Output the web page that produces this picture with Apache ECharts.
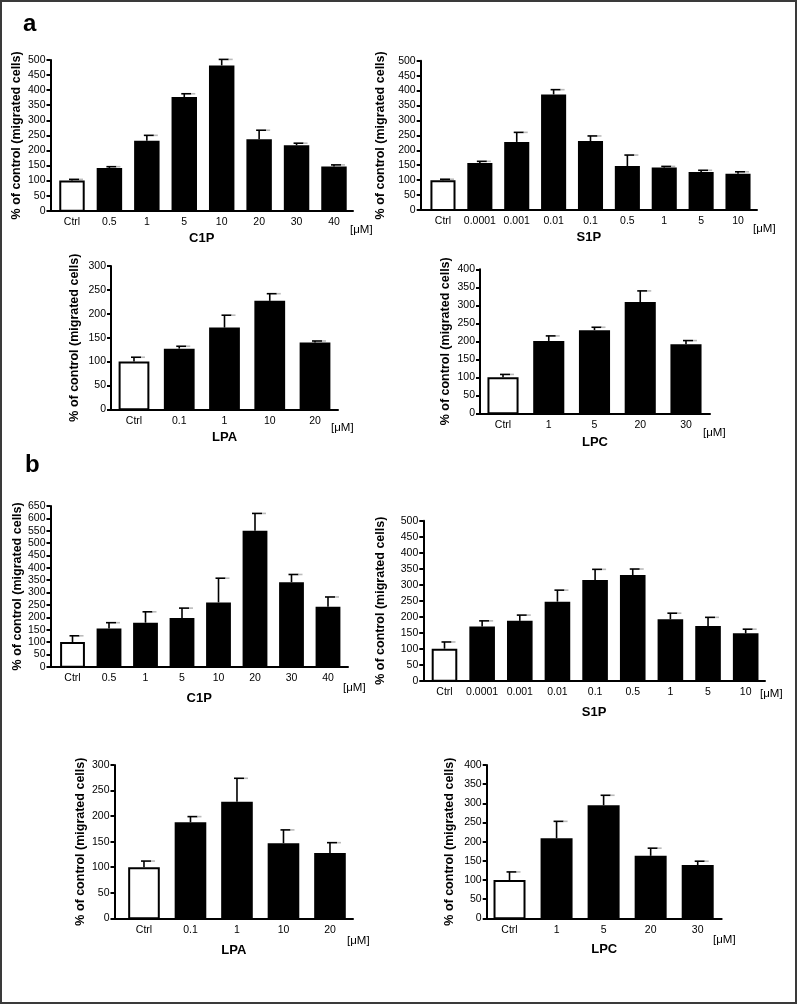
<!DOCTYPE html>
<html>
<head>
<meta charset="utf-8">
<script src="https://cdn.jsdelivr.net/npm/echarts@6/dist/echarts.min.js"></script>
<style>
html,body{margin:0;padding:0;background:#fff;}
#chart{width:798px;height:1004px;}
</style>
</head>
<body>
<div id="chart"></div>
<script>
// ---------- data ----------
const catsC1P = ['Ctrl','0.5','1','5','10','20','30','40'];
const catsS1P = ['Ctrl','0.0001','0.001','0.01','0.1','0.5','1','5','10'];
const catsLPA = ['Ctrl','0.1','1','10','20'];
const catsLPC = ['Ctrl','1','5','20','30'];

const aC1P    = [100,142,232,377,482,237,217,147];
const aC1PErr = [104,146,250,388,502,267,224,152];
const aS1P    = [100,157,228,387,231,147,142,127,121];
const aS1PErr = [103,163,260,403,248,184,146,133,128];
const aLPA    = [100,127,171,227,140];
const aLPAErr = [109,132,197,242,143];
const aLPC    = [100,201,231,309,192];
const aLPCErr = [108,215,239,340,202];

const bC1P    = [100,155,178,197,260,550,342,242];
const bC1PErr = [125,178,222,237,358,620,373,282];
const bS1P    = [100,169,187,247,315,330,192,171,148];
const bS1PErr = [121,187,205,283,348,349,211,198,161];
const bLPA    = [100,188,228,147,128];
const bLPAErr = [112,199,274,173,148];
const bLPC    = [100,209,295,163,139];
const bLPCErr = [121,253,321,183,149];

const yMaxs = [500,500,300,400,650,500,300,400];
const yStep = 50;
const yTitle = '% of control (migrated cells)';
const unitLabel = '[\u03bcM]';

// ---------- layout ----------
const FONT = 'Liberation Sans, Arial, sans-serif';
const panels = [
  {cats:catsC1P, v:aC1P, e:aC1PErr, name:'C1P', L:50.5, R:353, T:60,    B:210.7, xmin:-0.574, xmax:7.508, ng:27, xg:21, mu:[350,230]},
  {cats:catsS1P, v:aS1P, e:aS1PErr, name:'S1P', L:420.7,R:757, T:60.7,  B:210,   xmin:-0.604, xmax:8.515, ng:34, xg:21, mu:[753,229]},
  {cats:catsLPA, v:aLPA, e:aLPAErr, name:'LPA', L:111,  R:338, T:266,   B:409.3, xmin:-0.508, xmax:4.508, ng:30, xg:22, mu:[331,428]},
  {cats:catsLPC, v:aLPC, e:aLPCErr, name:'LPC', L:480,  R:710, T:269.3, B:413.3, xmin:-0.503, xmax:4.525, ng:28, xg:23, mu:[703,433]},
  {cats:catsC1P, v:bC1P, e:bC1PErr, name:'C1P', L:50.5, R:348, T:506,   B:666.7, xmin:-0.603, xmax:7.548, ng:24, xg:25, mu:[343,688]},
  {cats:catsS1P, v:bS1P, e:bS1PErr, name:'S1P', L:423.3,R:765, T:520.7, B:680.7, xmin:-0.563, xmax:8.513, ng:36, xg:25, mu:[760,694]},
  {cats:catsLPA, v:bLPA, e:bLPAErr, name:'LPA', L:114.5,R:353, T:765,   B:918.3, xmin:-0.634, xmax:4.495, ng:27, xg:26, mu:[347,941]},
  {cats:catsLPC, v:bLPC, e:bLPCErr, name:'LPC', L:486.7,R:721.7,T:765,  B:918.3, xmin:-0.485, xmax:4.51,  ng:31, xg:25, mu:[713,940]}
];
const BAR_FRAC = 0.68;

const grids = [], xAxes = [], yAxes = [], series = [];
const graphics = [
  {type:'rect', shape:{x:1, y:1, width:795, height:1002}, style:{fill:'none', stroke:'#3a3a3a', lineWidth:2}, z:100},
  {type:'text', x:23, y:24, style:{text:'a', font:'bold 24px '+FONT, fill:'#000', verticalAlign:'middle'}},
  {type:'text', x:25, y:465, style:{text:'b', font:'bold 24px '+FONT, fill:'#000', verticalAlign:'middle'}}
];

panels.forEach(function(p, k){
  grids.push({left:p.L, top:p.T, width:p.R-p.L, height:p.B-p.T, containLabel:false, outerBoundsMode:'none'});
  const idx = p.cats.map(function(_, i){ return i; });
  xAxes.push({
    type:'value', gridIndex:k, min:p.xmin, max:p.xmax,
    name:p.name, nameLocation:'middle', nameGap:p.xg,
    nameTextStyle:{fontFamily:FONT, fontWeight:'bold', fontSize:13, color:'#000'},
    axisLine:{show:true, onZero:false, lineStyle:{color:'#000', width:2}},
    axisTick:{show:false},
    splitLine:{show:false},
    axisLabel:{customValues:idx, margin:6, fontFamily:FONT, fontSize:10.5, color:'#000',
      formatter:function(val){ return p.cats[Math.round(val)]; }}
  });
  yAxes.push({
    type:'value', gridIndex:k, min:0, max:yMaxs[k], interval:yStep,
    name:yTitle, nameLocation:'middle', nameGap:p.ng,
    nameTextStyle:{fontFamily:FONT, fontWeight:'bold', fontSize:12.5, color:'#000'},
    axisLine:{show:true, onZero:false, lineStyle:{color:'#000', width:2}},
    axisTick:{show:true, length:4, lineStyle:{color:'#000', width:2}},
    splitLine:{show:false},
    axisLabel:{margin:5, fontFamily:FONT, fontSize:10.5, color:'#000'}
  });
  series.push({
    type:'custom', xAxisIndex:k, yAxisIndex:k, silent:true, z:1,
    data:p.v.map(function(val, i){ return [i, val, p.e[i]]; }),
    renderItem:function(params, api){
      const i = api.value(0), val = api.value(1), err = api.value(2);
      const top = api.coord([i, val]);
      const base = api.coord([i, 0]);
      const et = api.coord([i, err]);
      const w = api.size([BAR_FRAC, 0])[0];
      const ctrl = (i === 0);
      const ch = [];
      ch.push({type:'line', shape:{x1:top[0], y1:top[1], x2:top[0], y2:et[1]}, style:{stroke:'#000', lineWidth:1.6}});
      ch.push({type:'line', shape:{x1:top[0]-3, y1:et[1], x2:top[0]+7, y2:et[1]}, style:{stroke:'#000', lineWidth:1.6}});
      ch.push({type:'line', shape:{x1:top[0]+7, y1:et[1], x2:top[0]+11, y2:et[1]}, style:{stroke:'#bbb', lineWidth:1.6}});
      if (ctrl) {
        ch.push({type:'rect', shape:{x:top[0]-w/2+1, y:top[1]+1, width:w-2, height:base[1]-top[1]-1}, style:{fill:'#fff', stroke:'#000', lineWidth:2}});
      } else {
        ch.push({type:'rect', shape:{x:top[0]-w/2, y:top[1], width:w, height:base[1]-top[1]}, style:{fill:'#000'}});
      }
      return {type:'group', children:ch};
    }
  });
  graphics.push({type:'text', x:p.mu[0], y:p.mu[1], style:{text:unitLabel, font:'11.5px '+FONT, fill:'#000', verticalAlign:'middle'}});
});

const chart = echarts.init(document.getElementById('chart'), null, {renderer:'canvas'});
chart.setOption({
  animation:false,
  backgroundColor:'#fff',
  grid:grids, xAxis:xAxes, yAxis:yAxes, series:series,
  graphic:graphics
});
</script>
</body>
</html>
